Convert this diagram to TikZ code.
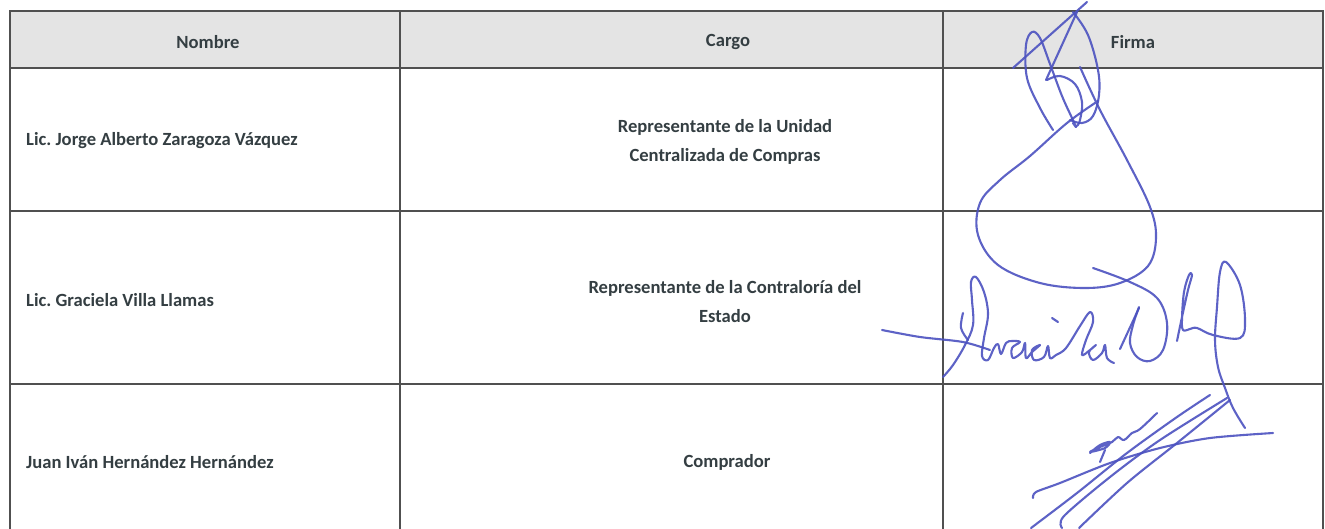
\documentclass[tikz,border=0pt]{standalone}
\usepackage{fontspec}
\setmainfont{Carlito}
\definecolor{ink}{RGB}{76,82,192}
\definecolor{txt}{RGB}{52,62,66}
\definecolor{rule}{RGB}{80,80,80}
\definecolor{hdr}{RGB}{228,228,228}
\frenchspacing
\begin{document}
\begin{tikzpicture}[x=1pt,y=-1pt,
  cell/.style={font=\fontsize{18.6}{29}\selectfont\bfseries, text=txt, align=center, inner sep=0pt},
  lcell/.style={cell, anchor=west, align=left},
  grid/.style={draw=rule, line width=1.5pt},
  pen/.style={draw=ink, line width=2.1pt, line cap=round, line join=round, opacity=0.9}]
\useasboundingbox (0,0) rectangle (1325,528);
\fill[white] (0,0) rectangle (1325,528);
% header
\fill[hdr] (10,11) rectangle (1323,68);
% grid
\draw[grid] (10,540) -- (10,11) -- (1323,11) -- (1323,540);
\draw[grid] (10,68) -- (1323,68);
\draw[grid] (10,211) -- (1323,211);
\draw[grid] (10,384) -- (1323,384);
\draw[grid] (400,11) -- (400,540);
\draw[grid] (943,11) -- (943,540);
% texts
\node[cell] (h1) at (208,42) {Nombre};
\node[cell] (h2) at (728,42) {Cargo};
\node[cell] (h3) at (1133,42) {Firma};
\node[lcell] (n1) at (26,141) {Lic. Jorge Alberto Zaragoza Vázquez};
\node[lcell] (n2) at (26,300) {Lic. Graciela Villa Llamas};
\node[lcell] (n3) at (26,462) {Juan Iván Hernández Hernández};
\node[cell] (c1) at (725,142) {Representante de la Unidad\\Centralizada de Compras};
\node[cell] (c2) at (725,302) {Representante de la Contraloría del\\Estado};
\node[cell] (c3) at (727,462) {Comprador};
% signature 1
\draw[pen] (1013,68) -- (1087,2);
\draw[pen] (1077,12) -- (1046,80);
\draw[pen] plot[smooth, tension=0.6] coordinates {(1053,130) (1040,108) (1027,78) (1026,45) (1032,32) (1040,38) (1050,64) (1062,96) (1072,118) (1076,127) (1073,123)};
\draw[pen] plot[smooth, tension=0.6] coordinates {(1047,80) (1060,76) (1075,84) (1082,102) (1080,120) (1077,126)};
\draw[pen] plot[smooth, tension=0.6] coordinates {(1073,12) (1088,35) (1098,70) (1099,95) (1093,116) (1082,123) (1070,120)};
\draw[pen] plot[smooth, tension=0.6] coordinates {(1080,67) (1100,110) (1127,160) (1150,207) (1156,238) (1148,266) (1120,283) (1085,288) (1040,283) (998,265) (978,235) (980,203) (1000,180) (1030,156) (1067,123) (1098,101)};
\draw[pen] plot[smooth, tension=0.6] coordinates {(1093,268) (1130,282) (1157,298) (1167,323) (1163,350) (1150,361) (1137,357) (1130,343) (1133,325) (1139,307)};
% signature 2
\draw[pen] plot[smooth, tension=0.5] coordinates {(882,330) (920,337) (963,342) (990,350)};
\draw[pen] plot[smooth, tension=0.6] coordinates {(943,377) (953,365) (965,345) (973,325) (972,300) (971,282) (976,277) (984,292) (988,314) (984,338) (982,356) (988,360) (994,348) (998,344) (1001,354) (1006,343) (1012,341) (1020,342) (1012,348) (1013,358) (1022,352) (1025,343) (1026,358) (1032,352) (1040,345) (1032,350) (1034,360) (1044,357) (1048,346) (1050,358) (1056,355) (1066,348) (1080,326) (1090,312) (1093,322) (1086,340) (1082,355) (1090,350) (1096,345) (1089,352) (1093,360) (1102,353) (1105,345) (1107,358) (1114,363)};
\draw[pen] plot[smooth, tension=0.6] coordinates {(963,313) (961,328) (968,340)};
\draw[pen] (1052,318) -- (1058,322);
\draw[pen] (1139,308) -- (1120,349);
\draw[pen] plot[smooth, tension=0.6] coordinates {(1177,341) (1182,317) (1188,290) (1192,275) (1189,275) (1184,292) (1182,318) (1183,330) (1190,329) (1197,328) (1213,335) (1240,338) (1245,320) (1240,285) (1226,262) (1220,272) (1217,307) (1215,340) (1218,367) (1225,388) (1233,408) (1245,428)};
% signature 3
\draw[pen] plot[smooth, tension=0.5] coordinates {(1033,498) (1036,492) (1060,483) (1110,463) (1160,448) (1210,438) (1273,433)};
\draw[pen] plot[smooth, tension=0.5] coordinates {(1031,528) (1077,493) (1127,453) (1177,417) (1210,395)};
\draw[pen] plot[smooth, tension=0.5] coordinates {(1062,528) (1064,516) (1110,477) (1160,440) (1227,398)};
\draw[pen] plot[smooth, tension=0.5] coordinates {(1079,528) (1127,483) (1177,443) (1230,400)};
\draw[pen] plot[smooth, tension=0.6] coordinates {(1090,453) (1100,445) (1110,442) (1105,448) (1090,452) (1100,447) (1112,442) (1118,437) (1124,440) (1132,433) (1140,429) (1157,413)};
\draw[pen] (1105,450) -- (1100,462);
\end{tikzpicture}
\end{document}
